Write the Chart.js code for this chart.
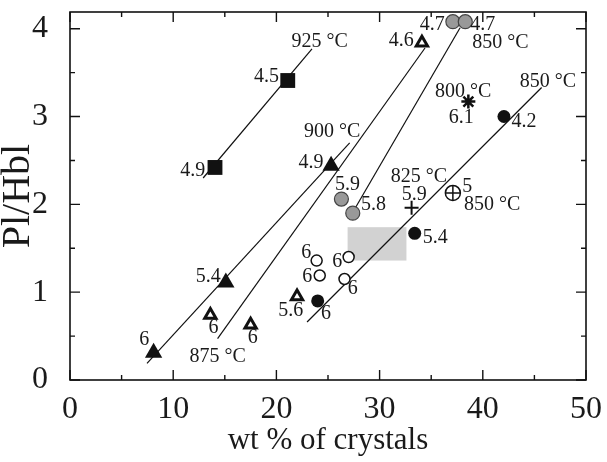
<!DOCTYPE html>
<html><head><meta charset="utf-8">
<script src="https://cdn.jsdelivr.net/npm/chart.js@4"></script>
<style>html,body{margin:0;padding:0;background:#fff}</style>
</head><body>
<canvas id="c" width="607" height="462"></canvas>
<script>
// ---- data ----
const xTicks = [0, 10, 20, 30, 40, 50];
const yTicks = [0, 1, 2, 3, 4];
const xMinorTicks = [5, 15, 25, 35, 45];
const yMinorTicks = [0.5, 1.5, 2.5, 3.5];

const squareX = [21.1, 14.05];
const squareY = [3.41, 2.42];
const filledTriX = [8.1, 15.1, 25.3];
const filledTriY = [0.31, 1.11, 2.44];
const openTriX = [13.6, 17.5, 22.0, 34.1];
const openTriY = [0.74, 0.63, 0.95, 3.84];
const grayCircX = [26.3, 27.4, 37.1, 38.3];
const grayCircY = [2.06, 1.90, 4.08, 4.08];
const openCircX = [23.9, 27.0, 24.2, 26.6];
const openCircY = [1.36, 1.40, 1.19, 1.15];
const filledCircX = [24.0, 33.4, 42.05];
const filledCircY = [0.90, 1.67, 3.00];
const plusX = [33.1], plusY = [1.96];
const crossCircX = [37.1], crossCircY = [2.13];
const starX = [38.6], starY = [3.17];

// isotherm lines: [x1, y1, x2, y2]
const line925 = [12.9, 2.30, 23.45, 3.77];
const line900 = [7.46, 0.19, 27.1, 2.70];
const line875 = [14.3, 0.47, 34.4, 3.78];
const line850a = [27.6, 1.95, 37.8, 4.01];
const line850b = [22.97, 0.66, 45.7, 3.33];

// shaded box: [xMin, xMax, yMin, yMax]
const grayBox = [26.9, 32.6, 1.36, 1.74];

// annotation labels
const labelText = ["925 °C","4.5","4.9","900 °C","4.9","4.6","4.7","4.7","850 °C","800 °C","6.1",
  "850 °C","4.2","5","850 °C","825 °C","5.9","5.4","5.9","5.8","6","6","6","6","5.6","6","6","5.4","6","6","875 °C"];
const labelX = [24.2,19.05,11.9,25.4,23.35,32.1,35.1,40.0,41.7,38.1,37.9,
  46.3,44.0,38.5,40.9,33.8,33.35,35.4,26.9,29.4,22.9,25.9,23.0,27.4,21.4,24.8,7.2,13.4,13.9,17.7,14.3];
const labelY = [3.85,3.45,2.38,2.83,2.47,3.86,4.05,4.05,3.84,3.28,2.99,
  3.40,2.94,2.20,1.99,2.31,2.11,1.62,2.22,1.99,1.45,1.35,1.17,1.04,0.79,0.75,0.46,1.17,0.60,0.48,0.26];

// ---- helpers ----
const pts = (xs, ys) => xs.map((x, i) => ({x, y: ys[i]}));
const seg = a => [{x: a[0], y: a[1]}, {x: a[2], y: a[3]}];
const FONT = "'Liberation Serif', 'Times New Roman', serif";

function lineDS(a) {
  return {type: 'line', data: seg(a), showLine: true, borderColor: '#111', borderWidth: 1.2,
    pointRadius: 0, fill: false, order: 5};
}

const datasets = [
  lineDS(line925), lineDS(line900), lineDS(line875), lineDS(line850a), lineDS(line850b),
  {data: pts(squareX, squareY), pointStyle: 'rect', pointRadius: 10.5, backgroundColor: '#111', borderColor: '#111', borderWidth: 0, order: 1},
  {data: pts(filledTriX, filledTriY), pointStyle: 'triangle', pointRadius: 10, backgroundColor: '#111', borderColor: '#111', borderWidth: 0, order: 1},
  {data: pts(openTriX, openTriY), pointStyle: 'triangle', pointRadius: 6.5, backgroundColor: '#fff', borderColor: '#111', borderWidth: 3, order: 1},
  {data: pts(grayCircX, grayCircY), pointStyle: 'circle', pointRadius: 7, backgroundColor: '#999', borderColor: '#444', borderWidth: 1.2, order: 1},
  {data: pts(openCircX, openCircY), pointStyle: 'circle', pointRadius: 5.5, backgroundColor: '#fff', borderColor: '#111', borderWidth: 1.5, order: 1},
  {data: pts(filledCircX, filledCircY), pointStyle: 'circle', pointRadius: 6.5, backgroundColor: '#111', borderColor: '#111', borderWidth: 0, order: 1},
  {data: pts(plusX, plusY), pointStyle: 'cross', pointRadius: 7, borderColor: '#111', borderWidth: 2, order: 1},
  {data: pts(crossCircX, crossCircY), pointStyle: 'circle', pointRadius: 7.5, backgroundColor: '#fff', borderColor: '#111', borderWidth: 1.5, order: 2},
  {data: pts(crossCircX, crossCircY), pointStyle: 'cross', pointRadius: 7.5, borderColor: '#111', borderWidth: 1.5, order: 0},
  {data: pts(starX, starY), pointStyle: 'star', pointRadius: 7, borderColor: '#111', borderWidth: 2.5, order: 1}
];

const boxPlugin = {
  id: 'box',
  beforeDatasetsDraw(chart) {
    const {ctx, scales: {x, y}} = chart;
    const x0 = x.getPixelForValue(grayBox[0]), x1 = x.getPixelForValue(grayBox[1]);
    const y0 = y.getPixelForValue(grayBox[3]), y1 = y.getPixelForValue(grayBox[2]);
    ctx.save(); ctx.fillStyle = '#d2d2d2'; ctx.fillRect(x0, y0, x1 - x0, y1 - y0); ctx.restore();
  },
  afterDatasetsDraw(chart) {
    const {ctx, scales: {x, y}} = chart;
    ctx.save();
    ctx.fillStyle = '#1a1a1a';
    ctx.font = '20px ' + FONT;
    ctx.textAlign = 'center'; ctx.textBaseline = 'middle';
    labelText.forEach((t, i) => ctx.fillText(t, x.getPixelForValue(labelX[i]), y.getPixelForValue(labelY[i])));
    ctx.restore();
  },
  afterDraw(chart) {
    const {ctx, chartArea: a, scales: {x, y}} = chart;
    ctx.save();
    ctx.strokeStyle = '#111'; ctx.lineWidth = 1.6;
    ctx.strokeRect(a.left, a.top, a.right - a.left, a.bottom - a.top);
    ctx.lineWidth = 1.4;
    ctx.beginPath();
    const tx = (vals, len) => vals.forEach(v => {
      const p = x.getPixelForValue(v);
      ctx.moveTo(p, a.bottom); ctx.lineTo(p, a.bottom - len);
      ctx.moveTo(p, a.top); ctx.lineTo(p, a.top + len);
    });
    const ty = (vals, len) => vals.forEach(v => {
      const p = y.getPixelForValue(v);
      ctx.moveTo(a.left, p); ctx.lineTo(a.left + len, p);
      ctx.moveTo(a.right, p); ctx.lineTo(a.right - len, p);
    });
    tx(xTicks, 10); tx(xMinorTicks, 5); ty(yTicks, 10); ty(yMinorTicks, 5);
    ctx.stroke();
    ctx.restore();
  }
};

const noPad = s => { s.paddingTop = 0; s.paddingBottom = 0; s.paddingLeft = 0; s.paddingRight = 0; };

new Chart(document.getElementById('c'), {
  type: 'scatter',
  data: {datasets},
  options: {
    responsive: false, animation: false, events: [],
    layout: {padding: {left: 0, right: 21, top: 12, bottom: 0}},
    plugins: {legend: {display: false}, tooltip: {enabled: false}},
    scales: {
      x: {
        type: 'linear', min: 0, max: 50,
        grid: {display: false}, border: {display: false},
        afterBuildTicks: s => { s.ticks = xTicks.map(v => ({value: v})); },
        afterFit: s => { s.height = 82; noPad(s); },
        ticks: {font: {family: FONT, size: 32}, color: '#1a1a1a', padding: 2, maxRotation: 0},
        title: {display: true, text: 'wt % of crystals', font: {family: FONT, size: 31, lineHeight: 1.2}, color: '#1a1a1a', padding: {top: 0, bottom: 3}}
      },
      y: {
        type: 'linear', min: 0, max: 4.19,
        grid: {display: false}, border: {display: false},
        afterBuildTicks: s => { s.ticks = yTicks.map(v => ({value: v})); },
        afterFit: s => { s.width = 70; noPad(s); },
        ticks: {font: {family: FONT, size: 32}, color: '#1a1a1a', padding: 14},
        title: {display: true, text: 'Pl/Hbl', font: {family: FONT, size: 40, lineHeight: 1}, color: '#1a1a1a', padding: {top: -2, bottom: 0}}
      }
    }
  },
  plugins: [boxPlugin]
});
</script>
</body></html>
